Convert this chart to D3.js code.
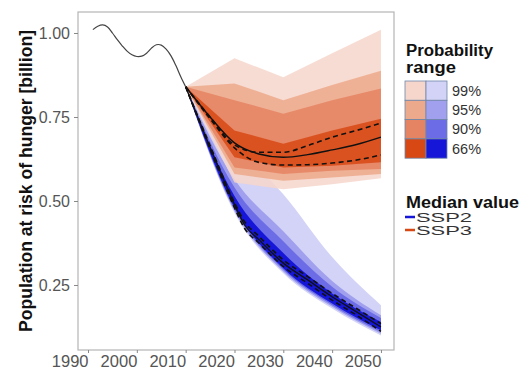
<!DOCTYPE html>
<html>
<head>
<meta charset="utf-8">
<script src="https://cdn.jsdelivr.net/npm/d3@7"></script>
<style>
  body { margin: 0; background: #fff; }
  svg { font-family: "Liberation Sans", Arial, sans-serif; }
</style>
</head>
<body>
<div id="chart"></div>
<script>
// historical estimate
var histYears = [1991, 1992, 1993, 1994, 1995, 1996, 1997, 1998, 1999, 2000,
                 2001, 2002, 2003, 2004, 2005, 2006, 2007, 2008, 2009, 2010];
var histValues = [1.01, 1.02, 1.024, 1.018, 1.0, 0.98, 0.962, 0.946, 0.935, 0.93,
                  0.931, 0.94, 0.955, 0.965, 0.964, 0.952, 0.932, 0.903, 0.87, 0.84];

// probability bands, years of the fan
var fanYears = [2010, 2020, 2030, 2040, 2050];
var bandNames = ["99%", "95%", "90%", "66%"];

// SSP2 (blue) lower / upper bounds per band
var ssp2Upper = [
  [0.84, 0.67, 0.52, 0.333, 0.19],
  [0.84, 0.565, 0.41, 0.262, 0.16],
  [0.84, 0.54, 0.38, 0.245, 0.152],
  [0.84, 0.515, 0.345, 0.225, 0.14]
];
var ssp2Lower = [
  [0.84, 0.465, 0.285, 0.18, 0.10],
  [0.84, 0.47, 0.29, 0.185, 0.105],
  [0.84, 0.475, 0.295, 0.19, 0.11],
  [0.84, 0.48, 0.30, 0.195, 0.115]
];

// SSP3 (orange)
var ssp3Upper = [
  [0.84, 0.925, 0.868, 0.94, 1.01],
  [0.84, 0.85, 0.80, 0.845, 0.888],
  [0.84, 0.80, 0.76, 0.80, 0.835],
  [0.84, 0.71, 0.67, 0.71, 0.745]
];
var ssp3Lower = [
  [0.84, 0.555, 0.535, 0.55, 0.568],
  [0.84, 0.58, 0.56, 0.57, 0.58],
  [0.84, 0.60, 0.58, 0.59, 0.595],
  [0.84, 0.63, 0.60, 0.605, 0.615]
];

// median lines
var ssp2MedYears = [2010, 2015, 2020, 2022, 2025, 2030, 2035, 2040, 2045, 2050];
var ssp2Median = [0.84, 0.66, 0.49, 0.43, 0.385, 0.315, 0.265, 0.215, 0.17, 0.125];
var ssp2DashA = [0.84, 0.655, 0.48, 0.42, 0.375, 0.305, 0.255, 0.205, 0.16, 0.112];
var ssp2DashB = [0.84, 0.665, 0.495, 0.44, 0.395, 0.325, 0.275, 0.225, 0.18, 0.135];

var ssp3MedYears = [2010, 2015, 2020, 2025, 2030, 2035, 2040, 2045, 2050];
var ssp3Median = [0.84, 0.75, 0.673, 0.64, 0.63, 0.638, 0.652, 0.668, 0.69];
var ssp3DashA = [0.84, 0.75, 0.667, 0.645, 0.645, 0.665, 0.69, 0.71, 0.732];
var ssp3DashB = [0.84, 0.745, 0.658, 0.615, 0.607, 0.608, 0.613, 0.622, 0.637];

var xTicks = [1990, 2000, 2010, 2020, 2030, 2040, 2050];
var yTicks = [0.25, 0.50, 0.75, 1.00];

var ssp2Colors = ["#d3d3f7", "#a0a0ee", "#6c6ce6", "#1616d8"];
var ssp3Colors = ["#f6d6cb", "#eda98b", "#e58462", "#d84815"];

var width = 522, height = 371;
var pLeft = 78, pRight = 394, pTop = 12, pBottom = 350;

var svg = d3.select("#chart").append("svg")
  .attr("width", width)
  .attr("height", height);

var x = d3.scaleLinear().domain([1987.95, 2052.67]).range([pLeft, pRight]);
var y = d3.scaleLinear().domain([0.0565, 1.0625]).range([pBottom, pTop]);

var plot = svg.append("g");

function drawFan(upper, lower, colors, curve, opacity) {
  upper.forEach(function(up, i) {
    var rows = fanYears.map(function(yr, j) { return {yr: yr, lo: lower[i][j], hi: up[j]}; });
    var area = d3.area()
      .x(function(d) { return x(d.yr); })
      .y0(function(d) { return y(d.lo); })
      .y1(function(d) { return y(d.hi); })
      .curve(curve);
    plot.append("path")
      .attr("d", area(rows))
      .attr("fill", colors[i])
      .attr("fill-opacity", opacity);
  });
}

drawFan(ssp2Upper, ssp2Lower, ssp2Colors, d3.curveMonotoneX, 1);
drawFan(ssp3Upper, ssp3Lower, ssp3Colors, d3.curveLinear, 0.85);

function drawLine(years, values, dashed, curve) {
  var line = d3.line()
    .x(function(d, i) { return x(years[i]); })
    .y(function(d) { return y(d); })
    .curve(curve);
  plot.append("path")
    .attr("d", line(values))
    .attr("fill", "none")
    .attr("stroke", "#111")
    .attr("stroke-width", dashed ? 1.6 : 1.4)
    .attr("stroke-dasharray", dashed ? "5,3.5" : null);
}

drawLine(ssp2MedYears, ssp2Median, false, d3.curveMonotoneX);
drawLine(ssp2MedYears, ssp2DashA, true, d3.curveMonotoneX);
drawLine(ssp2MedYears, ssp2DashB, true, d3.curveMonotoneX);
drawLine(ssp3MedYears, ssp3Median, false, d3.curveMonotoneX);
drawLine(ssp3MedYears, ssp3DashA, true, d3.curveMonotoneX);
drawLine(ssp3MedYears, ssp3DashB, true, d3.curveMonotoneX);

// history
plot.append("path")
  .attr("d", d3.line()
    .x(function(d, i) { return x(histYears[i]); })
    .y(function(d) { return y(d); })
    .curve(d3.curveCatmullRom)(histValues))
  .attr("fill", "none")
  .attr("stroke", "#444")
  .attr("stroke-width", 1.2);

// panel border
svg.append("rect")
  .attr("x", pLeft).attr("y", pTop)
  .attr("width", pRight - pLeft).attr("height", pBottom - pTop)
  .attr("fill", "none")
  .attr("stroke", "#b5b5b5")
  .attr("stroke-width", 1.2);

// axes
var xAxis = svg.append("g")
  .attr("transform", "translate(0," + pBottom + ")")
  .call(d3.axisBottom(x).tickValues(xTicks).tickFormat(d3.format("d")).tickSize(3).tickPadding(2));
var yAxis = svg.append("g")
  .attr("transform", "translate(" + pLeft + ",0)")
  .call(d3.axisLeft(y).tickValues(yTicks).tickFormat(d3.format(".2f")).tickSize(4).tickPadding(4));

[xAxis, yAxis].forEach(function(a) {
  a.select(".domain").remove();
  a.selectAll(".tick line").attr("stroke", "#888");
  a.selectAll(".tick text")
    .attr("fill", "#555")
    .style("font-family", "Liberation Sans, Arial, sans-serif");
});
yAxis.selectAll(".tick text").style("font-size", "16px");
// year labels sit left of their tick in the reference
xAxis.selectAll(".tick text")
  .style("font-size", "16.5px")
  .attr("text-anchor", "end")
  .attr("x", 0)
  .attr("y", 16.5)
  .attr("dy", 0);

svg.append("text")
  .attr("transform", "translate(32,181) rotate(-90)")
  .attr("text-anchor", "middle")
  .attr("textLength", 302)
  .attr("lengthAdjust", "spacingAndGlyphs")
  .style("font-size", "17.5px")
  .style("font-weight", "bold")
  .attr("fill", "#111")
  .text("Population at risk of hunger [billion]");

// legend
var lg = svg.append("g");
function legendTitle(label, ty, len) {
  lg.append("text").attr("x", 406).attr("y", ty)
    .attr("textLength", len).attr("lengthAdjust", "spacingAndGlyphs")
    .style("font-size", "16px").style("font-weight", "bold").attr("fill", "#111")
    .text(label);
}
legendTitle("Probability", 56, 87);
legendTitle("range", 73, 50);

var keyX = 405, keyY = 81, keyW = 21, keyH = 19.3;
bandNames.forEach(function(name, i) {
  lg.append("rect")
    .attr("x", keyX).attr("y", keyY + i * keyH)
    .attr("width", keyW).attr("height", keyH)
    .attr("fill", ssp3Colors[i]).attr("stroke", "#6f87a8").attr("stroke-width", 0.8);
  lg.append("rect")
    .attr("x", keyX + keyW).attr("y", keyY + i * keyH)
    .attr("width", keyW).attr("height", keyH)
    .attr("fill", ssp2Colors[i]).attr("stroke", "#6f87a8").attr("stroke-width", 0.8);
  lg.append("text")
    .attr("x", 452).attr("y", keyY + i * keyH + keyH / 2 + 5)
    .style("font-size", "14.5px").attr("fill", "#333")
    .text(name);
});

legendTitle("Median value", 208, 113);
var medNames = ["SSP2", "SSP3"];
var medColors = ["#1616d8", "#d84815"];
medNames.forEach(function(name, i) {
  lg.append("line")
    .attr("x1", 405).attr("x2", 415)
    .attr("y1", 217 + i * 13).attr("y2", 217 + i * 13)
    .attr("stroke", medColors[i]).attr("stroke-width", 2.5);
  lg.append("text").attr("x", 416).attr("y", 222 + i * 13)
    .attr("textLength", 56).attr("lengthAdjust", "spacingAndGlyphs")
    .style("font-size", "13.5px").attr("fill", "#333")
    .text(name);
});
</script>
</body>
</html>
